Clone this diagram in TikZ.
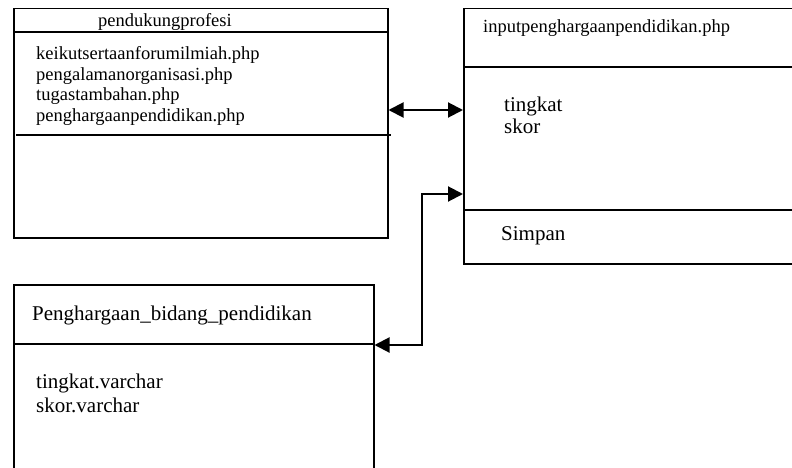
\documentclass[tikz,border=0pt]{standalone}
\usepackage{fontspec}
\setmainfont{Liberation Serif}
\usetikzlibrary{arrows.meta}
\begin{document}
\begin{tikzpicture}[x=1pt,y=-1pt,
  box/.style={draw,line width=1.5pt,inner sep=0pt,anchor=north west},
  divider/.style={line width=1.5pt},
  lbl/.style={anchor=base west,inner sep=0pt},
  small/.style={font=\fontsize{18.5}{20.7}\selectfont},
  big/.style={font=\fontsize{21}{24}\selectfont},
  conn/.style={line width=2pt,line join=miter,{Triangle[length=15pt,width=15pt]}-{Triangle[length=15pt,width=15pt]}}]
\useasboundingbox (0,0) rectangle (792,468);
% boxes
\node[box,minimum width=374pt,minimum height=229pt] (pp) at (13,8) {};
\node[box,minimum width=345pt,minimum height=255pt] (ip) at (463,8) {};
\node[box,minimum width=360pt,minimum height=200pt] (pb) at (13,284) {};
% dividers
\draw[divider] (pp.west |- 0,32) -- (pp.east |- 0,32);
\draw[divider] (16,135) -- (391,135);
\draw[divider] (ip.west |- 0,67) -- (800,67);
\draw[divider] (ip.west |- 0,210) -- (800,210);
\draw[divider] (pb.west |- 0,344) -- (pb.east |- 0,344);
% texts
\node[lbl,small] (t1) at (98,27) {pendukungprofesi};
\node[lbl,small] (t2) at (36,60) {keikutsertaanforumilmiah.php};
\node[lbl,small] (t3) at (36,81) {pengalamanorganisasi.php};
\node[lbl,small] (t4) at (36,101) {tugastambahan.php};
\node[lbl,small] (t5) at (36,122) {penghargaanpendidikan.php};
\node[lbl,small] (t6) at (483,33) {inputpenghargaanpendidikan.php};
\node[lbl,big] (t7) at (504,112) {tingkat};
\node[lbl,big] (t8) at (504,133) {skor};
\node[lbl,big] (t9) at (501,240) {Simpan};
\node[lbl,big] (t10) at (32,320) {Penghargaan\_bidang\_pendidikan};
\node[lbl,big] (t11) at (36,388) {tingkat.varchar};
\node[lbl,big] (t12) at (36,412) {skor.varchar};
% connectors
\draw[conn] (pp.east |- 0,110) -- (ip.west |- 0,110);
\draw[conn] (pb.east |- 0,345) -- (422,345) -- (422,194) -- (ip.west |- 0,194);
\end{tikzpicture}
\end{document}
